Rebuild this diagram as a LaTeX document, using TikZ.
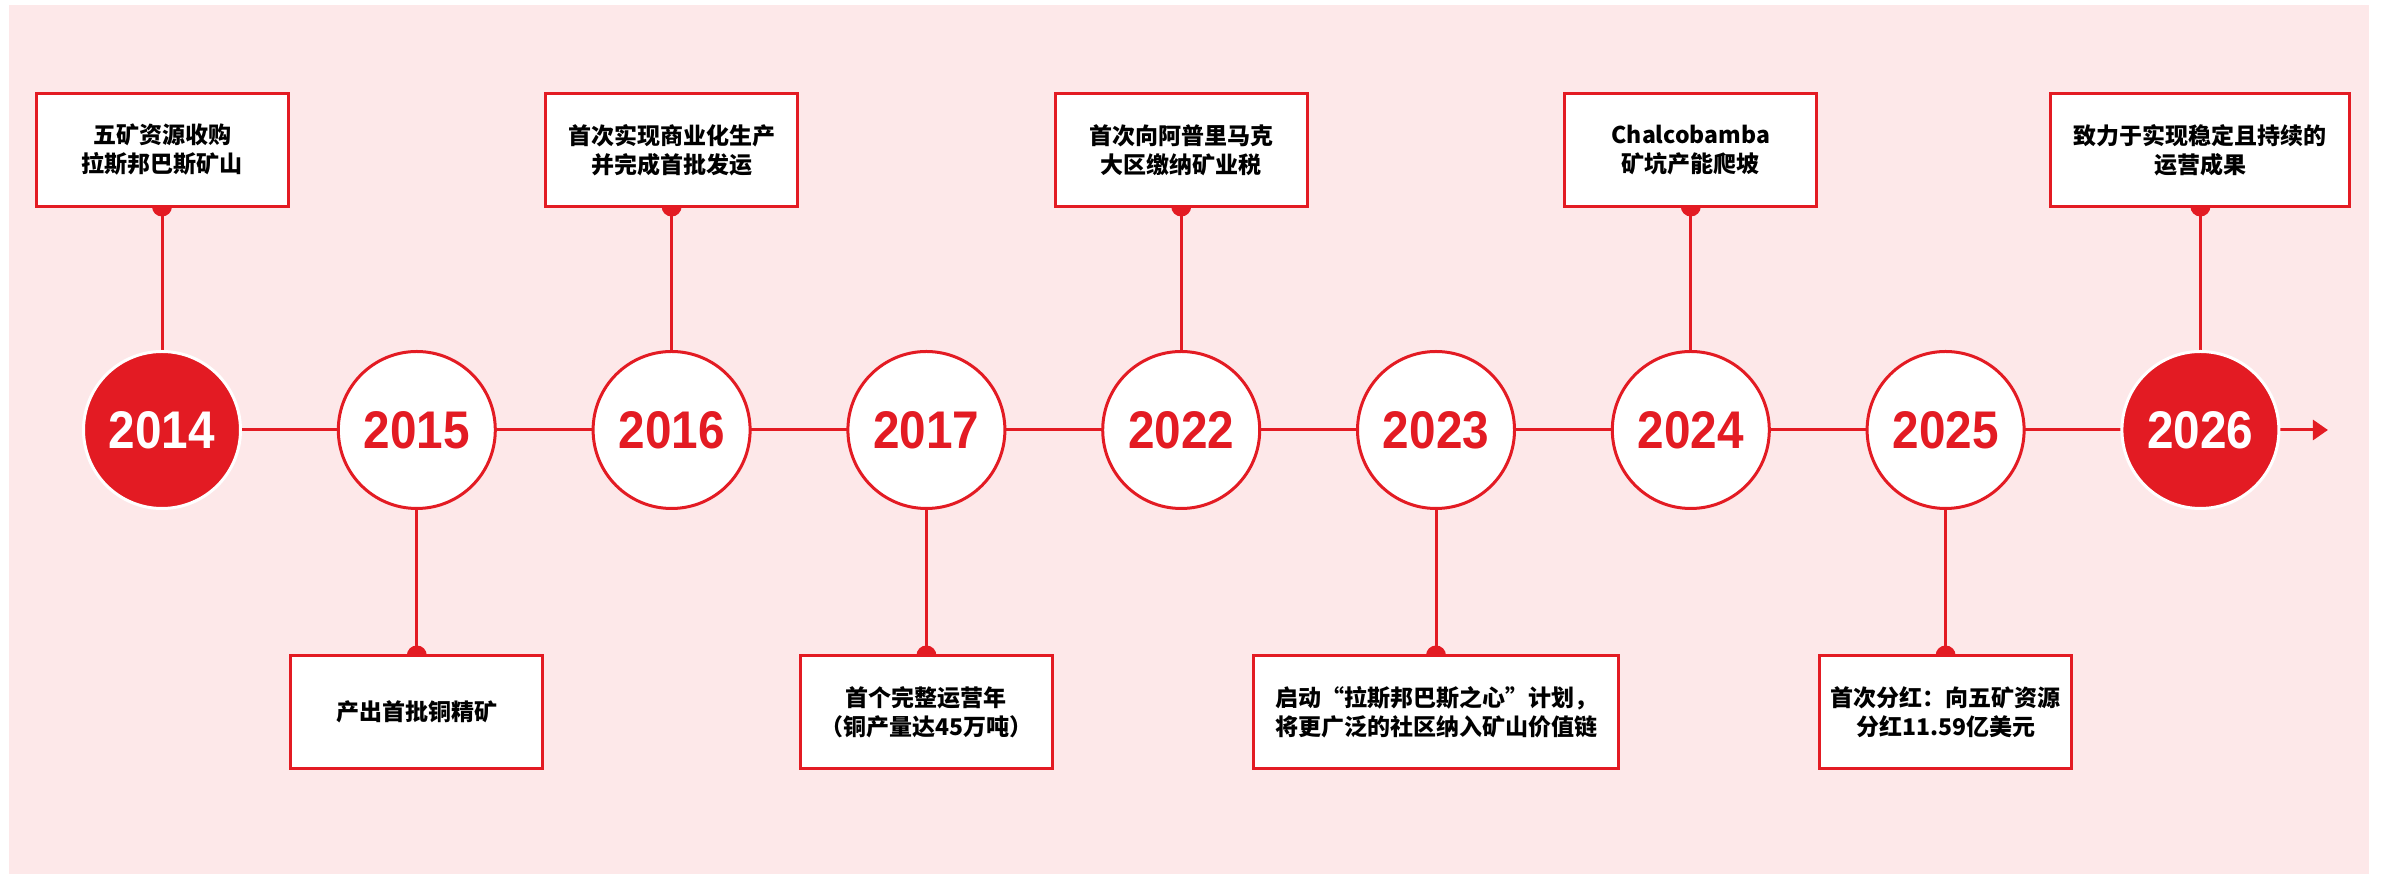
\documentclass[tikz,border=0pt]{standalone}
\usepackage{fontspec}
\setmainfont{Liberation Sans}
\newfontfamily\cjk{Noto Sans CJK SC}
\newfontfamily\yearfont[FakeStretch=0.9]{Liberation Sans}
\usepackage{tikz}
\usetikzlibrary{arrows.meta,backgrounds,positioning}
\definecolor{minered}{RGB}{227,27,35}
\definecolor{minepink}{RGB}{253,232,233}
\tikzstyle{every picture}+=[font=\cjk\bfseries]

\begin{document}
\begin{tikzpicture}
		[x=1pt, y=1pt, inner sep=0pt, outer sep=0pt,
		year/.style			= {draw=minered, circle, line width=3pt, fill=white, text=minered, minimum size=157pt, font=\yearfont\bfseries\fontsize{53}{53}\selectfont},
		milestone/.style	= {year, draw=white, fill=minered, text=white},
		event/.style		= {draw=minered, rectangle, line width=3pt, fill=white, minimum width=252pt, minimum height=113pt, align=center, font=\cjk\bfseries\fontsize{23}{29}\selectfont},
		link/.style			= {draw=minered, line width=3pt}]
		
		\useasboundingbox (0,0) rectangle (2382,874);
		
		\node [milestone]	at (162,444)				(2014)	{2014};
		\node [year]		[right = 97.8pt of 2014]	(2015)	{2015};
		\node [year]		[right = 97.8pt of 2015]	(2016)	{2016};
		\node [year]		[right = 97.8pt of 2016]	(2017)	{2017};
		\node [year]		[right = 97.8pt of 2017]	(2022)	{2022};
		\node [year]		[right = 97.8pt of 2022]	(2023)	{2023};
		\node [year]		[right = 97.8pt of 2023]	(2024)	{2024};
		\node [year]		[right = 97.8pt of 2024]	(2025)	{2025};
		\node [milestone]	[right = 97.8pt of 2025]	(2026)	{2026};
		\coordinate [right = 49pt of 2026] (arrowend);
		
		\node [event]	[above = 145pt of 2014]	(e2014)	{五矿资源收购\\拉斯邦巴斯矿山};
		\node [event]	[below = 147pt of 2015]	(e2015)	{产出首批铜精矿};
		\node [event]	[above = 145pt of 2016]	(e2016)	{首次实现商业化生产\\并完成首批发运};
		\node [event]	[below = 147pt of 2017]	(e2017)	{首个完整运营年\\（铜产量达45万吨）};
		\node [event]	[above = 145pt of 2022]	(e2022)	{首次向阿普里马克\\大区缴纳矿业税};
		\node [event, minimum width=365pt, align=left]	[below = 147pt of 2023]	(e2023)	{启动“拉斯邦巴斯之心”计划，\\将更广泛的社区纳入矿山价值链};
		\node [event]	[above = 145pt of 2024]	(e2024)	{Chalcobamba\\矿坑产能爬坡};
		\node [event]	[below = 147pt of 2025]	(e2025)	{首次分红：向五矿资源\\分红11.59亿美元};
		\node [event, minimum width=299pt]	[above = 145pt of 2026]	(e2026)	{致力于实现稳定且持续的\\运营成果};
		
		\begin{scope}[on background layer]
		\fill [minepink] (9,0) rectangle (2369,869);
		\draw [link] (2014) -- (2026);
		\draw [link, -{Triangle[length=15pt, width=20pt]}] (2026.east) -- (arrowend);
		\draw [link] (e2014) -- (2014);
		\draw [link] (e2015) -- (2015);
		\draw [link] (e2016) -- (2016);
		\draw [link] (e2017) -- (2017);
		\draw [link] (e2022) -- (2022);
		\draw [link] (e2023) -- (2023);
		\draw [link] (e2024) -- (2024);
		\draw [link] (e2025) -- (2025);
		\draw [link] (e2026) -- (2026);
		\fill [minered] (e2014.south) circle [radius=10pt];
		\fill [minered] (e2015.north) circle [radius=10pt];
		\fill [minered] (e2016.south) circle [radius=10pt];
		\fill [minered] (e2017.north) circle [radius=10pt];
		\fill [minered] (e2022.south) circle [radius=10pt];
		\fill [minered] (e2023.north) circle [radius=10pt];
		\fill [minered] (e2024.south) circle [radius=10pt];
		\fill [minered] (e2025.north) circle [radius=10pt];
		\fill [minered] (e2026.south) circle [radius=10pt];
		\end{scope}
		\end{tikzpicture}
\end{document}
